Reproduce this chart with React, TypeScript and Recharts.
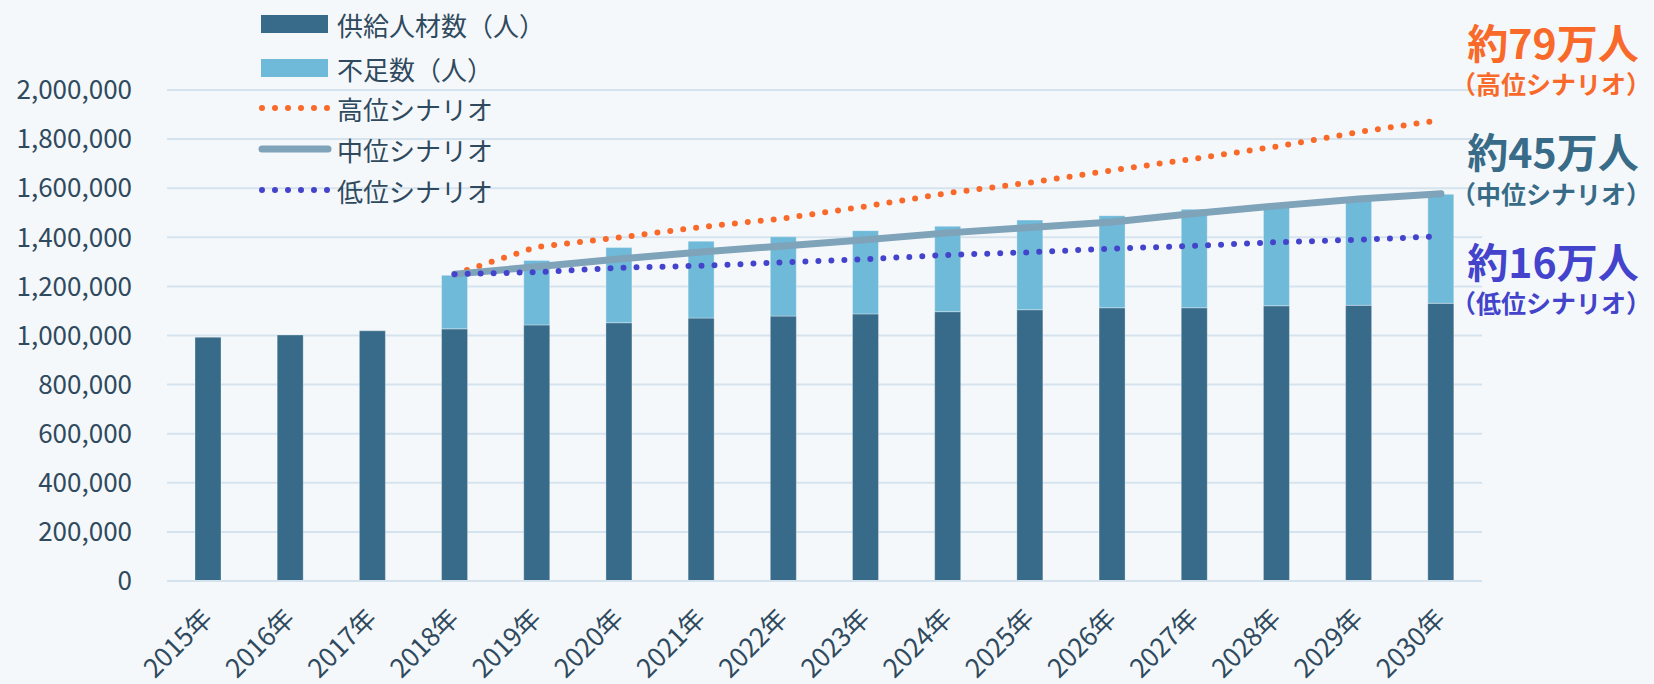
import React from 'react';
import { ComposedChart, Bar, Line, XAxis, YAxis, CartesianGrid, Legend } from 'recharts';

const years = ['2015年', '2016年', '2017年', '2018年', '2019年', '2020年', '2021年', '2022年', '2023年', '2024年', '2025年', '2026年', '2027年', '2028年', '2029年', '2030年'];
const supply = [993000, 1002000, 1019000, 1027000, 1043000, 1052000, 1071000, 1079000, 1088000, 1097000, 1105000, 1113000, 1113000, 1121000, 1123000, 1131000];
const shortage = [null, null, null, 218000, 263000, 306000, 313000, 323000, 339000, 348000, 365000, 375000, 401000, 409000, 429000, 444000];
const highScenario = [null, null, null, 1250000, 1361000, 1399000, 1442000, 1477000, 1526000, 1580000, 1623000, 1673000, 1720000, 1770000, 1829000, 1878000];
const midScenario = [null, null, null, 1250000, 1280000, 1312000, 1340000, 1365000, 1390000, 1418000, 1440000, 1462000, 1497000, 1528000, 1556000, 1577000];
const lowScenario = [null, null, null, 1250000, 1258000, 1276000, 1284000, 1298000, 1311000, 1328000, 1339000, 1354000, 1365000, 1380000, 1390000, 1404000];
const yTicks = [0, 200000, 400000, 600000, 800000, 1000000, 1200000, 1400000, 1600000, 1800000, 2000000];

const seriesNames = ['供給人材数（人）', '不足数（人）', '高位シナリオ', '中位シナリオ', '低位シナリオ'];
const annotations = [
  { main: '約79万人', sub: '（高位シナリオ）', color: '#F8692A' },
  { main: '約45万人', sub: '（中位シナリオ）', color: '#386B88' },
  { main: '約16万人', sub: '（低位シナリオ）', color: '#4343CC' },
];

const C_DARK = '#376B89';
const C_LIGHT = '#6FB9D9';
const C_HIGH = '#F8692A';
const C_MID = '#7FA3B9';
const C_LOW = '#4343CC';
const C_TEXT = '#2F4A5E';
const C_GRID = '#D5E3EE';
const FONT = "'Noto Sans CJK JP', 'Noto Sans', sans-serif";

const data = years.map((y, i) => ({
  year: y,
  supply: supply[i],
  shortage: shortage[i],
  high: highScenario[i],
  mid: midScenario[i],
  low: lowScenario[i],
}));

const XTick = (props: any) => {
  const { x, y, payload } = props;
  const ax = x + 6;
  const ay = y + 39;
  return (
    <text x={ax} y={ay} textAnchor="end" fill={C_TEXT} fontSize={26} fontFamily={FONT}
      transform={`rotate(-45, ${ax}, ${ay})`}>{payload.value}</text>
  );
};

const legendColors = [C_DARK, C_LIGHT, C_HIGH, C_MID, C_LOW];
const legendKinds = ['rect', 'rect', 'dots', 'line', 'dots'];
const legendRowY = [24, 68, 108, 149, 190];

const LegendContent = () => (
  <svg width={560} height={215} style={{ display: 'block', overflow: 'visible' }}>
    {seriesNames.map((name, i) => {
      const cy = legendRowY[i];
      const kind = legendKinds[i];
      const col = legendColors[i];
      return (
        <g key={name}>
          {kind === 'rect' && <rect x={261} y={cy - 9} width={67} height={18} fill={col} />}
          {kind === 'dots' && (
            <line x1={262} y1={cy} x2={328} y2={cy} stroke={col} strokeWidth={6} strokeLinecap="round" strokeDasharray="0 13" />
          )}
          {kind === 'line' && (
            <line x1={262} y1={cy} x2={328} y2={cy} stroke={col} strokeWidth={7} strokeLinecap="round" />
          )}
          <text x={337} y={cy} dominantBaseline="central" fontSize={26} fontFamily={FONT} fill={C_TEXT}>{name}</text>
        </g>
      );
    })}
  </svg>
);

export default function App() {
  return (
    <div style={{ position: 'absolute', left: 0, top: 0, width: 1654, height: 684, background: '#F5F8FA', fontFamily: FONT }}>
      <ComposedChart width={1654} height={684} data={data} margin={{ top: 90, right: 172, bottom: 0, left: 0 }} barSize={26}>
        <CartesianGrid vertical={false} stroke={C_GRID} strokeWidth={2} />
        <XAxis dataKey="year" interval={0} tickSize={0} tickMargin={0} tickLine={false}
          axisLine={{ stroke: C_GRID, strokeWidth: 2 }} tick={<XTick />} height={103} />
        <YAxis domain={[0, 2000000]} ticks={yTicks} width={167} tickSize={0} tickMargin={35}
          axisLine={false} tickLine={false} interval={0}
          tick={{ fill: C_TEXT, fontSize: 26, fontFamily: FONT }}
          tickFormatter={(v: number) => v.toLocaleString('en-US')} />
        <Legend layout="horizontal" verticalAlign="middle" align="center" content={<LegendContent />}
          wrapperStyle={{ top: 0, left: 0, width: 700, height: 215 }} />
        <Bar dataKey="supply" name={seriesNames[0]} stackId="a" fill={C_DARK} stroke="rgba(255,255,255,0.3)" strokeWidth={1} isAnimationActive={false} />
        <Bar dataKey="shortage" name={seriesNames[1]} stackId="a" fill={C_LIGHT} stroke="rgba(255,255,255,0.35)" strokeWidth={1} isAnimationActive={false} />
        <Line dataKey="high" name={seriesNames[2]} stroke={C_HIGH} strokeWidth={6} strokeLinecap="round" strokeDasharray="0 13" dot={false} activeDot={false} isAnimationActive={false} />
        <Line dataKey="mid" name={seriesNames[3]} stroke={C_MID} strokeWidth={7} strokeLinecap="round" strokeLinejoin="round" dot={false} activeDot={false} isAnimationActive={false} />
        <Line dataKey="low" name={seriesNames[4]} stroke={C_LOW} strokeWidth={6} strokeLinecap="round" strokeDasharray="0 13" dot={false} activeDot={false} isAnimationActive={false} />
      </ComposedChart>
      <svg width={1654} height={684} style={{ position: 'absolute', left: 0, top: 0, pointerEvents: 'none' }}>
        {annotations.map((a, i) => {
          const base = [41, 150, 260][i];
          const subY = [83, 193, 302][i];
          return (
            <g key={a.main}>
              <text x={1553} y={base} textAnchor="middle" dominantBaseline="central" fontSize={41} fontWeight={700} fontFamily={FONT} fill={a.color}>{a.main}</text>
              <text x={1551} y={subY} textAnchor="middle" dominantBaseline="central" fontSize={25} fontWeight={700} fontFamily={FONT} fill={a.color}>{a.sub}</text>
            </g>
          );
        })}
      </svg>
    </div>
  );
}
